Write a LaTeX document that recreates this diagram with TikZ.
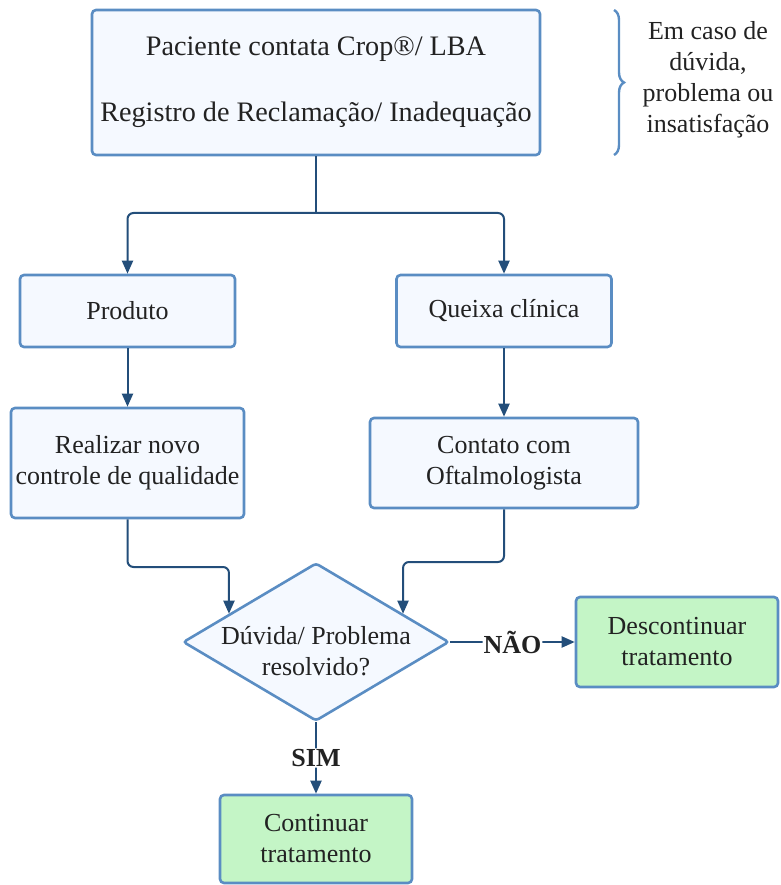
\documentclass[tikz,border=0pt]{standalone}
\usepackage{fontspec}
\setmainfont{Liberation Serif}
\usetikzlibrary{shapes.geometric,arrows.meta,decorations.pathreplacing}
\definecolor{boxline}{HTML}{5A8DC3}
\definecolor{boxfill}{HTML}{F5F9FF}
\definecolor{okfill}{HTML}{C4F5C6}
\definecolor{arrowline}{HTML}{234E7A}
\definecolor{txt}{HTML}{222222}
\tikzset{
  box/.style={draw=boxline, fill=boxfill, line width=2.6pt, rounded corners=4pt,
    align=center, text=txt, inner sep=0pt},
  okbox/.style={box, fill=okfill},
  decision/.style={diamond, draw=boxline, fill=boxfill, line width=2.6pt,
    rounded corners=3pt, inner sep=0pt, aspect=1.68,
    minimum width=266pt, minimum height=158pt},
  question/.style={align=center, text=txt, yshift=-9pt},
  line/.style={draw=arrowline, line width=2pt, rounded corners=6pt},
  arrow/.style={line, -{Triangle[length=13pt,width=11pt]}},
  choice/.style={fill=white, inner sep=1pt, text=txt,
    font=\fontsize{26}{31}\selectfont\bfseries}
}
\begin{document}
\begin{tikzpicture}[x=1pt, y=-1pt, font=\fontsize{26}{31}\selectfont]
  \useasboundingbox (0,0) rectangle (780,885);

  % boxes
  \node[box, minimum width=448pt, minimum height=145pt,
    font=\fontsize{28.2}{34}\selectfont] (paciente) at (316,82.5)
    {Paciente contata Crop®/ LBA\\[32pt]Registro de Reclamação/ Inadequação};
  \node[box, minimum width=215pt, minimum height=72pt] (produto) at (127.5,311) {Produto};
  \node[box, minimum width=215pt, minimum height=72pt] (queixa) at (504,311) {Queixa clínica};
  \node[box, minimum width=233pt, minimum height=110pt] (realizar) at (127.5,463)
    {Realizar novo\\controle de qualidade};
  \node[box, minimum width=268pt, minimum height=90pt] (contato) at (504,463)
    {Contato com\\Oftalmologista};
  \node[decision, label={[question]center:{Dúvida/ Problema\\resolvido?}}]
    (duvida) at (316,642) {};
  \node[okbox, minimum width=202pt, minimum height=90pt] (descont) at (677,642)
    {Descontinuar\\tratamento};
  \node[okbox, minimum width=192pt, minimum height=88pt] (continuar) at (316,839)
    {Continuar\\tratamento};

  % note
  \draw[draw=boxline, line width=2.4pt, decorate, decoration={brace, amplitude=10pt}]
    (614,10) -- (614,155);
  \node[align=center, text=txt] (nota) at (708,80)
    {Em caso de\\dúvida,\\problema ou\\insatisfação};

  % connectors
  \coordinate (split) at (316,213);
  \draw[line] (paciente.south) -- (split);
  \draw[arrow] (split) -| (produto.north);
  \draw[arrow] (split) -| (queixa.north);
  \draw[arrow] (produto) -- (realizar);
  \draw[arrow] (queixa) -- (contato);
  \coordinate (lbend) at (duvida.162 |- 0,567);
  \coordinate (rbend) at (duvida.18 |- 0,562);
  \draw[arrow] (realizar.south) |- (lbend) -- (duvida.162);
  \draw[arrow] (contato.south) |- (rbend) -- (duvida.18);
  \draw[arrow] (duvida.east) -- node[choice] {NÃO} (descont.west);
  \draw[arrow] (duvida.south) -- node[choice] {SIM} (continuar.north);
\end{tikzpicture}
\end{document}
